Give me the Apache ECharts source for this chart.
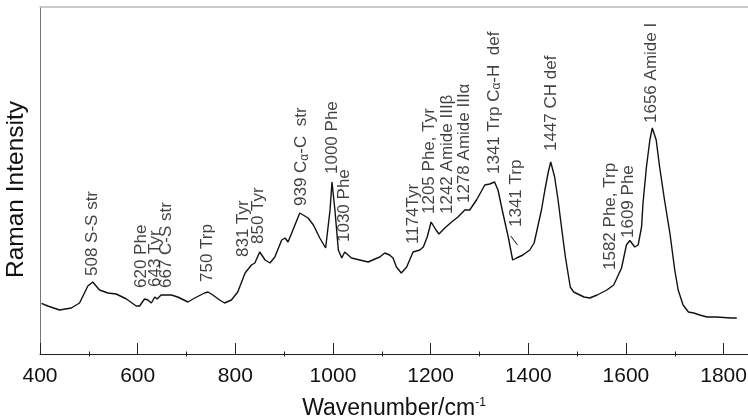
<!DOCTYPE html>
<html><head><meta charset="utf-8">
<script src="https://cdn.jsdelivr.net/npm/echarts@6/dist/echarts.min.js"></script>
<style>html,body{margin:0;padding:0;background:#fff}#c{width:748px;height:417px}</style>
</head><body><div id="c"></div><script>
const wavenumbers = [403,416,440,464,481,491,498,508,522,539,556,577,597,604,614,621,628,635,640,648,659,669,682,703,717,737,744,751,768,778,792,805,820,833,840,850,861,871,881,895,902,908,918,932,939,949,960,973,985,994,998,1004,1011,1018,1024,1028,1038,1055,1072,1086,1096,1106,1116,1123,1130,1140,1151,1164,1178,1185,1193,1201,1211,1217,1229,1243,1256,1270,1280,1294,1311,1321,1331,1338,1348,1359,1368,1376,1389,1403,1412,1417,1427,1434,1441,1446,1454,1461,1468,1476,1486,1493,1514,1526,1541,1561,1575,1591,1601,1608,1618,1625,1632,1635,1642,1649,1654,1662,1669,1679,1690,1700,1707,1717,1728,1739,1751,1766,1785,1800,1815,1827];
const intensity = [50.7,48,44,46,51,61,68,72,64,61,60,55,48,48,55,54,51,57,55,59,59,59,57,52,56,61,62,60,54,51,54,62,81,89,91,102,94,91,97,114,116,112,124,141,139,136,129,116,106,144,172,144,104,96,102,103,96,94,92,95,97,101,99,96,87,81,87,102,104,107,117,132,124,120,126,132,137,144,144,154,169,170,172,164,141,117,94,96,99,104,111,122,144,164,182,192,177,154,127,97,67,62,57,56,59,64,69,86,109,113.5,107,109,127,151,187,214,226,214,187,154,121,84,64,49,42,41,39,37,37,36.5,36,36];
const labelWn = [508,607,637,658,742,816,847,936,998,1024,1165,1198,1235,1270,1331,1376,1447,1569,1604,1653];
const labelY = [78,66,67,66,72,97,110,148,180,112,110,140,140,151,180,127,203,84,116,231];
const labelText = ['508 S-S str','620 Phe','643 Tyr','667 C-S str','750 Trp','831 Tyr','850 Tyr','939 C{sub|α}-C  str','1000 Phe','1030 Phe','1174Tyr','1205 Phe, Tyr','1242 Amide IIIβ','1278 Amide IIIα','1341 Trp C{sub|α}-H  def','1341 Trp','1447 CH def','1582 Phe, Trp','1609 Phe','1656 Amide I'];
const leaderLine = [[1364,118],[1378,109]];
const xTicks = [400,600,800,1000,1200,1400,1600,1800];
const xMinorTicks = [500,700,900,1100,1300,1500,1700];
const xMin = 400, xMax = 1850, yMin = 0, yMax = 347;

const FONT = "'Liberation Sans', Arial, Helvetica, sans-serif";
const chart = echarts.init(document.getElementById('c'), null, {renderer:'canvas'});
const baseX = {min:xMin, max:xMax, type:'value', splitLine:{show:false}};
chart.setOption({
  animation:false,
  backgroundColor:'#fff',
  grid:{left:40, right:0, top:7, bottom:63, containLabel:false, outerBoundsMode:'none'},
  xAxis:[
    Object.assign({}, baseX, {
      position:'bottom',
      axisLine:{show:true, lineStyle:{color:'#222', width:1}},
      axisTick:{show:true, inside:true, length:11, customValues:xTicks, lineStyle:{color:'#222'}},
      axisLabel:{show:true, customValues:xTicks, formatter:v=>String(v), fontSize:21, color:'#111', fontFamily:FONT, margin:12},
      name:'Wavenumber/cm{sup|-1}', nameLocation:'middle', nameGap:43,
      nameTextStyle:{fontSize:23, color:'#111', fontFamily:FONT, rich:{sup:{fontSize:12, verticalAlign:'top', padding:[0,0,10,0], fontFamily:FONT, color:'#111'}}}
    }),
    Object.assign({}, baseX, {
      position:'bottom', offset:2.5,
      axisLine:{show:false},
      axisTick:{show:true, inside:true, length:5, customValues:xMinorTicks, lineStyle:{color:'#222'}},
      axisLabel:{show:false}
    }),
    Object.assign({}, baseX, {
      position:'top',
      axisLine:{show:true, lineStyle:{color:'#bbb', width:1.5}},
      axisTick:{show:false}, axisLabel:{show:false}
    })
  ],
  yAxis:{
    type:'value', min:yMin, max:yMax,
    axisLine:{show:true, lineStyle:{color:'#777', width:1}},
    axisTick:{show:false}, axisLabel:{show:false}, splitLine:{show:false},
    name:'Raman Intensity', nameLocation:'middle', nameGap:11,
    nameTextStyle:{fontSize:24.5, color:'#111', fontFamily:FONT, padding:[0,18,0,0]}
  },
  series:[
    {
      type:'line', xAxisIndex:0, showSymbol:false, symbol:'none',
      data: wavenumbers.map((w,i)=>[w,intensity[i]]),
      lineStyle:{color:'#111', width:1.4}
    },
    {
      type:'scatter', xAxisIndex:0, symbolSize:1, itemStyle:{color:'rgba(0,0,0,0)'},
      data: labelWn.map((w,i)=>({value:[w,labelY[i]], label:{formatter:labelText[i]}})),
      label:{show:true, position:'inside', rotate:90, align:'left', verticalAlign:'middle',
        fontSize:17, color:'#111', fontFamily:FONT,
        rich:{sub:{fontSize:12, verticalAlign:'bottom', fontFamily:FONT, color:'#111'}}},
      emphasis:{disabled:true},
      markLine:{silent:true, symbol:'none', label:{show:false}, lineStyle:{color:'#111', width:1, type:'solid'},
        data:[[{coord:leaderLine[0]},{coord:leaderLine[1]}]]}
    }
  ]
});
</script></body></html>
